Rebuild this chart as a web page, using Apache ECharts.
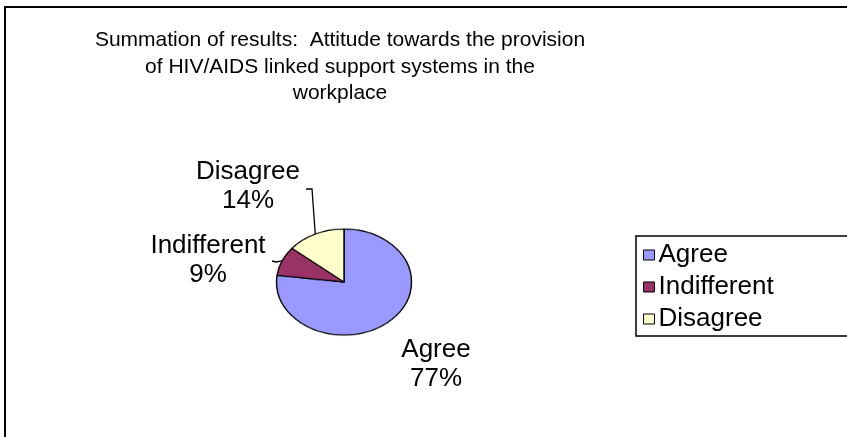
<!DOCTYPE html>
<html>
<head>
<meta charset="utf-8">
<script src="https://cdn.jsdelivr.net/npm/echarts@6/dist/echarts.min.js"></script>
<style>
  html, body { margin: 0; padding: 0; background: #fff; }
  #wrap { position: relative; width: 847px; height: 437px; overflow: hidden; }
  #pie, #main { position: absolute; left: 0; top: 0; width: 847px; height: 437px; }
  #pie { transform-origin: 344px 282px; transform: scaleY(0.785); }
</style>
</head>
<body>
<div id="wrap">
  <div id="pie"></div>
  <div id="main"></div>
</div>
<script>
// ---- data ----
const titleLines = [
  'Summation of results:  Attitude towards the provision',
  'of HIV/AIDS linked support systems in the',
  'workplace'
];
const categories = ['Agree', 'Indifferent', 'Disagree'];
const values = [77, 9, 14];
const colors = ['#9999FF', '#993366', '#FFFFCC'];

// ---- layout ----
const FONT = "'Liberation Sans', Arial, sans-serif";
const CX = 344, CY = 282, RX = 67.5, RY = 53;

const data = categories.map((c, i) => ({ name: c, value: values[i] }));

// pie slices (drawn as circle, squashed to an ellipse by CSS)
const pieChart = echarts.init(document.getElementById('pie'), null, { renderer: 'canvas' });
pieChart.setOption({
  animation: false,
  backgroundColor: '#fff',
  color: colors,
  series: [{
    type: 'pie',
    silent: true,
    center: [CX, CY],
    radius: RX,
    startAngle: 90,
    clockwise: true,
    label: { show: false },
    labelLine: { show: false },
    itemStyle: { borderColor: '#000', borderWidth: 1.4 },
    data: data
  }]
});

// geometry helper: point on the ellipse edge at the middle of slice i
const total = values.reduce((a, b) => a + b, 0);
function edgePoint(i) {
  let before = 0;
  for (let k = 0; k < i; k++) before += values[k];
  const frac = (before + values[i] / 2) / total;
  const ang = (90 - frac * 360) * Math.PI / 180;
  return [CX + RX * Math.cos(ang), CY - RY * Math.sin(ang)];
}

// label placement (text block centres)
const labelPos = {
  0: [436, 364],
  1: [208, 260],
  2: [248, 186]
};

const main = echarts.init(document.getElementById('main'), null, { renderer: 'canvas' });
main.setOption({
  animation: false,
  backgroundColor: 'transparent',
  textStyle: { fontFamily: FONT },
  graphic: [{
    type: 'rect',
    silent: true,
    shape: { x: 5, y: 7, width: 900, height: 500 },
    style: { fill: 'none', stroke: '#000', lineWidth: 2 }
  }],
  title: {
    text: titleLines.join('\n'),
    left: 340,
    top: 27,
    textAlign: 'center',
    padding: 0,
    textStyle: {
      fontFamily: FONT, fontSize: 21, fontWeight: 'normal',
      color: '#000', lineHeight: 26.5
    }
  },
  legend: {
    orient: 'vertical',
    left: 636,
    top: 236,
    padding: [6, 90, 4, 7],
    itemGap: 6,
    itemWidth: 11,
    itemHeight: 10,
    borderColor: '#000',
    borderWidth: 1.5,
    icon: 'rect',
    selectedMode: false,
    textStyle: { fontFamily: FONT, fontSize: 26, lineHeight: 26, color: '#000', padding: [0, 0, 0, -1] },
    data: categories.map((c, i) => ({
      name: c,
      itemStyle: { color: colors[i], borderColor: '#000', borderWidth: 1 }
    }))
  },
  series: [{
    type: 'pie',
    silent: true,
    center: [CX, CY],
    radius: RX,
    startAngle: 90,
    clockwise: true,
    itemStyle: { color: 'rgba(0,0,0,0)', borderWidth: 0 },
    emphasis: { disabled: true },
    label: {
      show: true,
      formatter: p => p.name + '\n' + Math.round(p.percent) + '%',
      fontFamily: FONT,
      fontSize: 26,
      lineHeight: 29,
      color: '#000',
      align: 'center'
    },
    labelLine: { show: true, lineStyle: { color: '#000', width: 1.3 } },
    labelLayout: function (params) {
      const i = params.dataIndex;
      const pos = labelPos[i];
      const res = { x: pos[0], y: pos[1], align: 'center', verticalAlign: 'middle' };
      const e = edgePoint(i);
      if (i === 2) {
        res.labelLinePoints = [[306, 189], [312, 189], e];
      } else if (i === 1) {
        res.labelLinePoints = [[272, 261], [276, 262], e];
      } else {
        res.labelLinePoints = [e, e, e];
      }
      return res;
    },
    data: data.map((d, i) => i === 0 ? Object.assign({}, d, { labelLine: { show: false } }) : d)
  }]
});
</script>
</body>
</html>
